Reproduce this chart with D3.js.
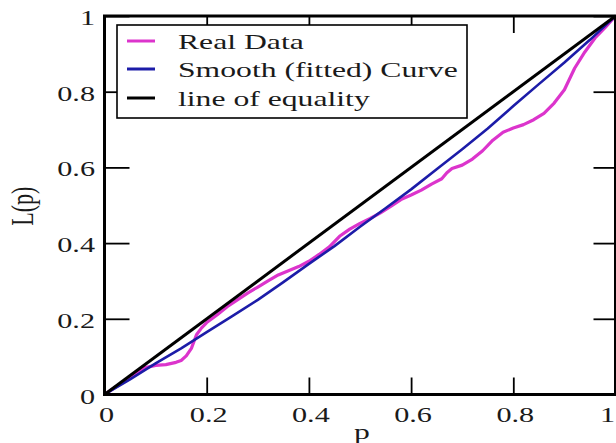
<!DOCTYPE html>
<html>
<head>
<meta charset="utf-8">
<script src="https://cdn.jsdelivr.net/npm/d3@7"></script>
<style>
  html, body { margin: 0; padding: 0; background: #fff; }
  svg { display: block; }
  text { font-family: "Liberation Serif", "Times New Roman", serif; fill: #1a1a1a; }
</style>
</head>
<body>
<svg id="chart" width="616" height="443"></svg>
<script>
// Lorenz curve: observed data, fitted curve and line of equality
const realP = [0, 0.02, 0.04, 0.06, 0.08, 0.10, 0.12, 0.14, 0.15, 0.16, 0.17, 0.18, 0.19, 0.20,
  0.22, 0.24, 0.26, 0.28, 0.30, 0.32, 0.34, 0.36, 0.38, 0.40, 0.42, 0.44, 0.46, 0.48, 0.50,
  0.52, 0.54, 0.56, 0.58, 0.60, 0.62, 0.64, 0.66, 0.67, 0.68, 0.70, 0.72, 0.74, 0.76, 0.78,
  0.80, 0.82, 0.84, 0.86, 0.88, 0.90, 0.92, 0.94, 0.96, 0.98, 1.00];
const realL = [0, 0.018, 0.036, 0.055, 0.071, 0.077, 0.079, 0.085, 0.090, 0.102, 0.122, 0.158, 0.176, 0.190,
  0.210, 0.232, 0.250, 0.268, 0.284, 0.300, 0.316, 0.327, 0.338, 0.352, 0.370, 0.390, 0.418, 0.437, 0.452,
  0.465, 0.480, 0.497, 0.515, 0.527, 0.540, 0.556, 0.570, 0.586, 0.597, 0.606, 0.622, 0.644, 0.672, 0.693,
  0.704, 0.713, 0.726, 0.743, 0.770, 0.805, 0.862, 0.905, 0.942, 0.970, 1.000];

const fitP = [0, 0.05, 0.10, 0.15, 0.20, 0.25, 0.30, 0.35, 0.40, 0.45, 0.50,
  0.55, 0.60, 0.65, 0.70, 0.75, 0.80, 0.85, 0.90, 0.95, 1.00];
const fitL = [0, 0.040, 0.082, 0.122, 0.165, 0.207, 0.250, 0.297, 0.345, 0.392, 0.443,
  0.492, 0.542, 0.595, 0.648, 0.703, 0.762, 0.820, 0.877, 0.937, 1.000];

const equalP = [0, 1];
const equalL = [0, 1];

const tickValues = [0, 0.2, 0.4, 0.6, 0.8, 1];
const tickLabels = ["0", "0.2", "0.4", "0.6", "0.8", "1"];

const seriesNames = ["Real Data", "Smooth (fitted) Curve", "line of equality"];
const seriesColors = ["#dc34cc", "#1c1ca8", "#000000"];

const svg = d3.select("#chart");
const plotLeft = 104.5, plotRight = 615.5, plotTop = 16, plotBottom = 394.5;
const stretch = 1.44;

const x = d3.scaleLinear().domain([0, 1]).range([plotLeft, plotRight]);
const y = d3.scaleLinear().domain([0, 1]).range([plotBottom, plotTop]);

const line = d3.line().x(d => x(d[0])).y(d => y(d[1]));
const zip = (a, b) => a.map((v, i) => [v, b[i]]);

// curves
const curves = [
  { pts: zip(realP, realL), color: seriesColors[0], w: 3.2 },
  { pts: zip(fitP, fitL), color: seriesColors[1], w: 2.6 },
  { pts: zip(equalP, equalL), color: seriesColors[2], w: 3 }
];
svg.append("g").selectAll("path").data(curves).join("path")
  .attr("d", d => line(d.pts))
  .attr("fill", "none")
  .attr("stroke", d => d.color)
  .attr("stroke-width", d => d.w)
  .attr("stroke-linejoin", "round");

// inward ticks on all four sides
const tickStyle = g => {
  g.select(".domain").remove();
  g.selectAll("line").attr("stroke", "#000").attr("stroke-width", 1.8);
  g.selectAll("text").remove();
};
svg.append("g").attr("transform", `translate(0,${plotBottom})`)
  .call(d3.axisBottom(x).tickValues(tickValues).tickSize(-17)).call(tickStyle);
svg.append("g").attr("transform", `translate(0,${plotTop})`)
  .call(d3.axisTop(x).tickValues(tickValues).tickSize(-17)).call(tickStyle);
svg.append("g").attr("transform", `translate(${plotLeft},0)`)
  .call(d3.axisLeft(y).tickValues(tickValues).tickSize(-25)).call(tickStyle);
svg.append("g").attr("transform", `translate(${plotRight},0)`)
  .call(d3.axisRight(y).tickValues(tickValues).tickSize(-22)).call(tickStyle);

// frame
svg.append("rect")
  .attr("x", plotLeft).attr("y", plotTop)
  .attr("width", plotRight - plotLeft).attr("height", plotBottom - plotTop)
  .attr("fill", "none").attr("stroke", "#000").attr("stroke-width", 3);

// tick labels (the last x label is pulled in so it stays inside the page)
const lastIdx = tickValues.length - 1;
svg.append("g").selectAll("g").data(tickValues).join("g")
  .attr("transform", (d, i) => `translate(${i === lastIdx ? 615 : x(d) + 2},${plotBottom + 27}) scale(${stretch},1)`)
  .append("text").attr("text-anchor", (d, i) => i === lastIdx ? "end" : "middle").attr("font-size", 21)
  .text((d, i) => tickLabels[i]);
svg.append("g").selectAll("g").data(tickValues).join("g")
  .attr("transform", d => `translate(${plotLeft - 9.5},${y(d) + 9}) scale(${stretch},1)`)
  .append("text").attr("text-anchor", "end").attr("font-size", 21)
  .text((d, i) => tickLabels[i]);

// axis titles
svg.append("g").attr("transform", `translate(${(plotLeft + plotRight) / 2 + 2},439) scale(${stretch},1)`)
  .append("text").attr("text-anchor", "middle").attr("font-size", 22).text("p");
svg.append("g").attr("transform", `translate(33,${(plotTop + plotBottom) / 2 + 1}) scale(${stretch},1) rotate(-90)`)
  .append("text").attr("text-anchor", "middle").attr("font-size", 22).text("L(p)");

// legend
const legend = svg.append("g");
legend.append("rect")
  .attr("x", 117).attr("y", 25).attr("width", 350).attr("height", 93)
  .attr("fill", "#fff").attr("stroke", "#000").attr("stroke-width", 1.6);
const rowY = [41, 69, 98];
const rows = legend.selectAll("g.row").data(seriesNames).join("g").attr("class", "row");
rows.append("line")
  .attr("x1", 127).attr("x2", 155)
  .attr("y1", (d, i) => rowY[i]).attr("y2", (d, i) => rowY[i])
  .attr("stroke", (d, i) => seriesColors[i]).attr("stroke-width", 3);
rows.append("g")
  .attr("transform", (d, i) => `translate(178,${rowY[i] + 8}) scale(${stretch},1)`)
  .append("text").attr("font-size", 22).text(d => d);
</script>
</body>
</html>
